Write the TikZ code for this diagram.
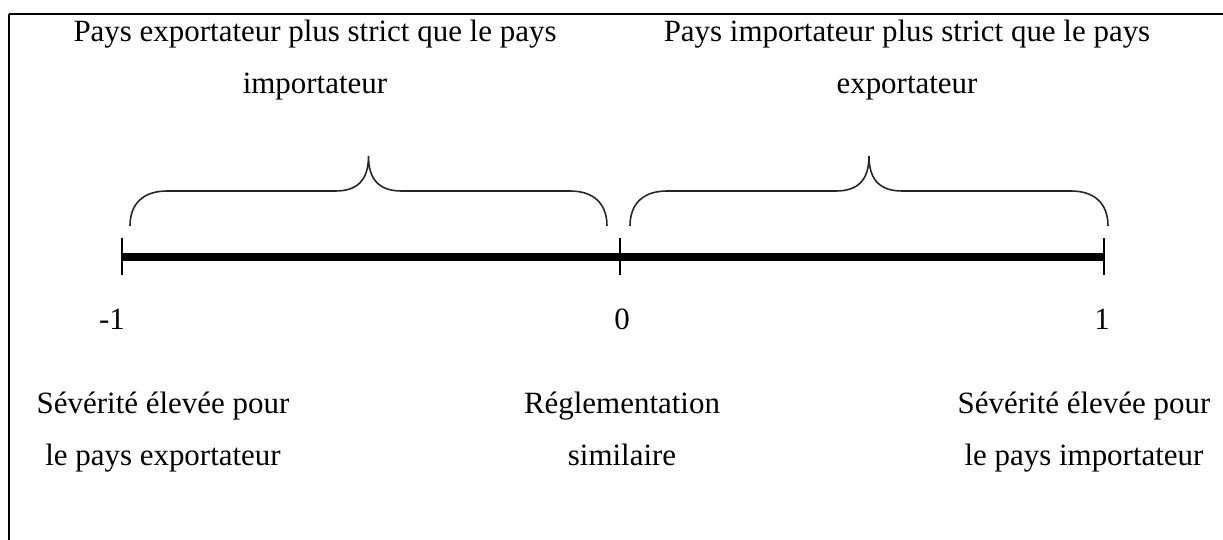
\documentclass[tikz,border=0pt]{standalone}
\usepackage{fontspec}
\setmainfont{Liberation Serif}
\usetikzlibrary{positioning, calc}

\begin{document}
\begin{tikzpicture}[x=0.01cm, y=-0.01cm,
    txt/.style={font=\fontsize{8.8}{14.8}\selectfont, align=center, inner sep=0pt, anchor=base},
    brc/.style={black!85, line width=0.45pt},
    tck/.style={line width=0.45pt}]

\useasboundingbox (0,0) rectangle (1223,540);

% ── Frame ─────────────────────────────────────────────────────────
\draw[line width=0.7pt] (9,14) -- (1223,14);
\draw[line width=0.3pt] (9,14) -- (9,457);
\draw[line width=0.6pt] (8.6,457) -- (8.6,540);

% ── Axis ──────────────────────────────────────────────────────────
\coordinate (m1) at (122,257);
\coordinate (z0) at (620,257);
\coordinate (p1) at (1104,257);
\draw[line width=2pt] (m1) -- (p1);
\foreach \c in {m1, z0, p1} {
    \draw[tck] ($(\c)+(0,-19)$) -- ($(\c)+(0,18)$);
}

% ── Braces ────────────────────────────────────────────────────────
\foreach \a/\b in {130/607, 630/1108} {
    \pgfmathsetmacro{\m}{(\a+\b)/2}
    \draw[brc] (\a,226) .. controls (\a,203) and (\a+14,191) .. (\a+37,191)
        -- (\m-33,191) .. controls (\m-12,191) and (\m,181) .. (\m,156)
        .. controls (\m,181) and (\m+12,191) .. (\m+33,191)
        -- (\b-37,191) .. controls (\b-14,191) and (\b,203) .. (\b,226);
}

% ── Labels (base = last line) ─────────────────────────────────────
\node[txt] (exphead) at (315,94) {Pays exportateur plus strict que le pays\\importateur};
\node[txt] (imphead) at (907,94) {Pays importateur plus strict que le pays\\exportateur};

\node[txt] (lm1) at (112,330) {-1};
\node[txt] (l0)  at (622,330) {0};
\node[txt] (lp1) at (1102,330) {1};

\node[txt] (expsev) at (163,466) {Sévérité élevée pour\\le pays exportateur};
\node[txt] (simreg) at (622,466) {Réglementation\\similaire};
\node[txt] (impsev) at (1084,466) {Sévérité élevée pour\\le pays importateur};

\end{tikzpicture}
\end{document}
